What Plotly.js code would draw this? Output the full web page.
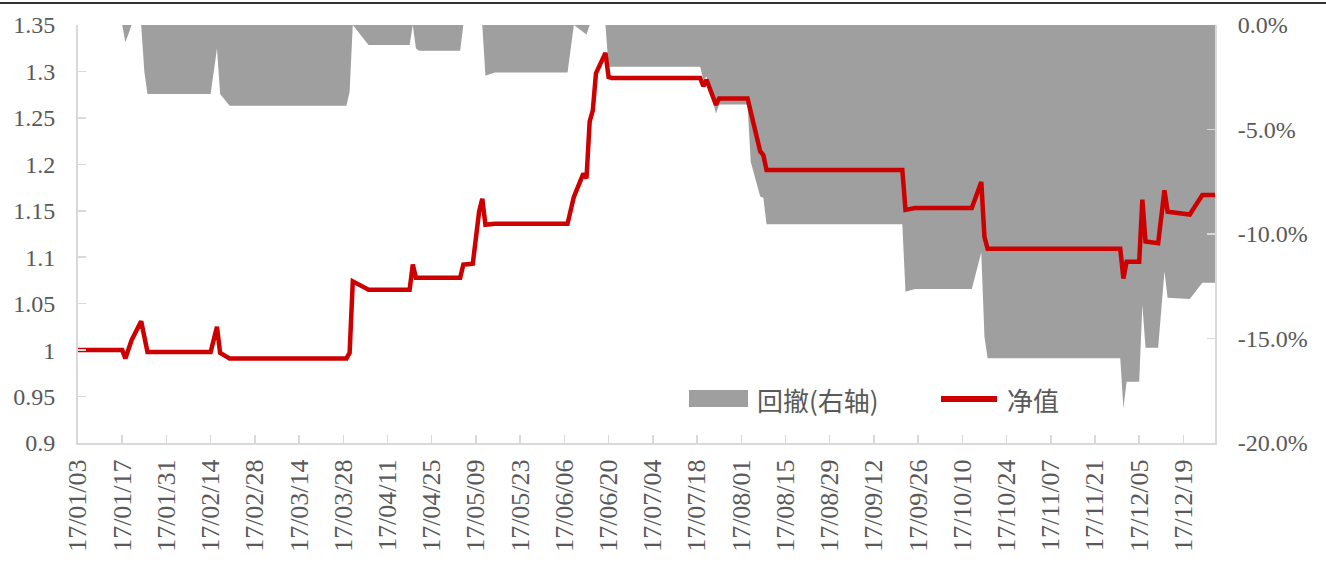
<!DOCTYPE html>
<html>
<head>
<meta charset="utf-8">
<script src="https://cdn.plot.ly/plotly-3.0.1.min.js"></script>
<style>
  html, body { margin: 0; padding: 0; background: #ffffff; }
  #chart { width: 1326px; height: 576px; }
</style>
</head>
<body>
<div id="chart"></div>
<script>
// ---- Data ----
const navDates = [
  '2017-01-03','2017-01-17','2017-01-18','2017-01-20','2017-01-23','2017-01-25',
  '2017-02-14','2017-02-16','2017-02-17','2017-02-20','2017-03-29','2017-03-30',
  '2017-03-31','2017-04-05','2017-04-18','2017-04-19','2017-04-20','2017-05-04',
  '2017-05-05','2017-05-08','2017-05-10','2017-05-11','2017-05-12','2017-05-15',
  '2017-06-07','2017-06-09','2017-06-12','2017-06-13','2017-06-14','2017-06-15',
  '2017-06-16','2017-06-19','2017-06-20','2017-06-21','2017-07-19','2017-07-20',
  '2017-07-21','2017-07-24','2017-07-25','2017-08-03','2017-08-07','2017-08-08',
  '2017-08-09','2017-09-21','2017-09-22','2017-09-25','2017-10-13','2017-10-16',
  '2017-10-17','2017-10-18','2017-11-29','2017-11-30','2017-12-01','2017-12-05',
  '2017-12-06','2017-12-07','2017-12-11','2017-12-13','2017-12-14','2017-12-21',
  '2017-12-25','2017-12-29'
];
const navValues = [
  1.000,1.000,0.991,1.011,1.031,0.998,
  0.998,1.025,0.997,0.991,0.991,0.997,
  1.074,1.065,1.065,1.092,1.078,1.078,
  1.092,1.093,1.149,1.163,1.135,1.136,
  1.136,1.165,1.190,1.185,1.246,1.258,
  1.298,1.320,1.294,1.293,1.293,1.284,
  1.291,1.264,1.271,1.271,1.214,1.210,
  1.194,1.194,1.151,1.153,1.153,1.181,
  1.122,1.109,1.109,1.077,1.095,1.095,
  1.162,1.117,1.115,1.172,1.149,1.146,
  1.167,1.167
];
const ddDates = [
  '2017-01-03','2017-01-17','2017-01-18','2017-01-20','2017-01-23','2017-01-24',
  '2017-01-25','2017-02-14','2017-02-16','2017-02-17','2017-02-20','2017-03-29',
  '2017-03-30','2017-03-31','2017-04-05','2017-04-18','2017-04-19','2017-04-20',
  '2017-04-21','2017-05-04','2017-05-05','2017-05-11','2017-05-12','2017-05-15',
  '2017-06-07','2017-06-09','2017-06-13','2017-06-14','2017-06-19','2017-06-20',
  '2017-07-19','2017-07-20','2017-07-21','2017-07-24','2017-07-25','2017-08-03',
  '2017-08-04','2017-08-07','2017-08-08','2017-08-09','2017-09-21','2017-09-22',
  '2017-09-25','2017-10-13','2017-10-16','2017-10-17','2017-10-18','2017-11-29',
  '2017-11-30','2017-12-01','2017-12-05','2017-12-06','2017-12-07','2017-12-11',
  '2017-12-13','2017-12-14','2017-12-21','2017-12-25','2017-12-29'
];
const ddValues = [
  0,0,-0.83,0,0,-2.23,
  -3.30,-3.30,-1.12,-3.30,-3.86,-3.86,
  -3.19,0,-0.96,-0.96,0,-1.12,
  -1.23,-1.23,0,0,-2.43,-2.27,
  -2.27,0,-0.45,0,0,-2.00,
  -2.00,-2.63,-2.47,-4.23,-3.80,-3.80,
  -6.54,-8.21,-8.26,-9.53,-9.53,-12.76,
  -12.63,-12.63,-10.88,-14.91,-15.95,-15.95,
  -18.34,-17.07,-17.07,-13.40,-15.44,-15.44,
  -11.80,-13.05,-13.11,-12.33,-12.33
];
const seriesNames = ['回撤(右轴)', '净值'];
const leftTicks = [0.9, 0.95, 1, 1.05, 1.1, 1.15, 1.2, 1.25, 1.3, 1.35];
const leftTickText = ['0.9', '0.95', '1', '1.05', '1.1', '1.15', '1.2', '1.25', '1.3', '1.35'];
const rightTicks = [-20, -15, -10, -5, 0];
const rightTickText = ['-20.0%', '-15.0%', '-10.0%', '-5.0%', '0.0%'];

// ---- Layout geometry ----
const W = 1326, H = 576;
const M = {l: 78, r: 111, t: 25, b: 133};
const PW = W - M.l - M.r, PH = H - M.t - M.b;
const px = x => (x - M.l) / PW;          // pixel -> paper x
const py = y => (H - M.b - y) / PH;      // pixel -> paper y

const GRAY = '#9f9f9f', RED = '#cc0000', AXIS = '#d9d9d9', TXT = '#595959';
const SERIF = '"Liberation Serif", "DejaVu Serif", serif';
const CJK = '"Noto Sans CJK SC", "Noto Sans", sans-serif';

const traces = [
  {
    x: ddDates, y: ddValues, name: seriesNames[0], type: 'scatter', mode: 'lines',
    line: {width: 0, color: GRAY}, fill: 'tozeroy', fillcolor: GRAY,
    yaxis: 'y', xaxis: 'x', showlegend: false, hoverinfo: 'skip'
  },
  {
    x: navDates, y: navValues, name: seriesNames[1], type: 'scatter', mode: 'lines',
    line: {width: 4.5, color: RED}, yaxis: 'y2', xaxis: 'x', showlegend: false
  }
];

const layout = {
  width: W, height: H,
  margin: M,
  paper_bgcolor: '#ffffff', plot_bgcolor: 'rgba(0,0,0,0)',
  showlegend: false,
  xaxis: {
    type: 'date',
    range: ['2017-01-03', '2017-12-29'],
    tick0: '2017-01-03', dtick: 14 * 86400000,
    tickformat: '%y/%m/%d', tickangle: -90,
    ticks: 'inside', ticklen: 8, tickcolor: AXIS, tickwidth: 1.5,
    showline: true, linecolor: AXIS, linewidth: 2,
    showgrid: false, zeroline: false,
    tickfont: {family: SERIF, size: 26, color: TXT},
    ticklabelstandoff: 4
  },
  yaxis: {
    side: 'right', range: [-20, 0],
    tickmode: 'array', tickvals: rightTicks, ticktext: rightTickText,
    ticks: 'inside', ticklen: 8, tickcolor: AXIS, tickwidth: 1.5,
    showline: true, linecolor: AXIS, linewidth: 2,
    showgrid: false, zeroline: false,
    tickfont: {family: SERIF, size: 24, color: TXT},
    ticklabelstandoff: 16
  },
  yaxis2: {
    side: 'left', overlaying: 'y', range: [0.9, 1.35],
    tickmode: 'array', tickvals: leftTicks, ticktext: leftTickText,
    ticks: 'inside', ticklen: 8, tickcolor: AXIS, tickwidth: 1.5,
    showline: true, linecolor: AXIS, linewidth: 2,
    showgrid: false, zeroline: false,
    tickfont: {family: SERIF, size: 24, color: TXT},
    ticklabelstandoff: 16
  },
  shapes: [
    // top rule of the page
    {type: 'line', xref: 'paper', yref: 'paper', x0: px(0), x1: px(W), y0: py(3), y1: py(3),
     line: {color: '#333333', width: 2}},
    // legend swatches
    {type: 'rect', xref: 'paper', yref: 'paper', x0: px(689), x1: px(748), y0: py(407), y1: py(390),
     fillcolor: GRAY, line: {width: 0}},
    {type: 'line', xref: 'paper', yref: 'paper', x0: px(941), x1: px(997), y0: py(399), y1: py(399),
     line: {color: RED, width: 6}}
  ],
  annotations: [
    {xref: 'paper', yref: 'paper', x: px(755), y: py(399), xanchor: 'left', yanchor: 'middle',
     text: seriesNames[0], showarrow: false, font: {family: CJK, size: 26, color: TXT}},
    {xref: 'paper', yref: 'paper', x: px(1005), y: py(399), xanchor: 'left', yanchor: 'middle',
     text: seriesNames[1], showarrow: false, font: {family: CJK, size: 26, color: TXT}}
  ]
};

Plotly.newPlot('chart', traces, layout, {displayModeBar: false, staticPlot: true});
</script>
</body>
</html>
